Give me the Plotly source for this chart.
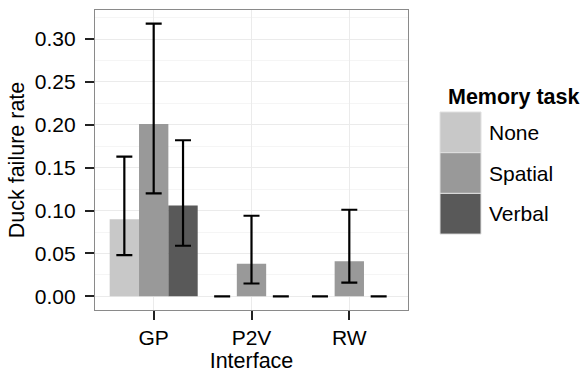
import plotly.graph_objects as go

interfaces = ["GP", "P2V", "RW"]
tasks = ["None", "Spatial", "Verbal"]
rates = {
    "None":    [0.090, 0.0, 0.0],
    "Spatial": [0.201, 0.038, 0.041],
    "Verbal":  [0.106, 0.0, 0.0],
}
upper = {
    "None":    [0.163, 0.0, 0.0],
    "Spatial": [0.318, 0.094, 0.101],
    "Verbal":  [0.182, 0.0, 0.0],
}
lower = {
    "None":    [0.048, 0.0, 0.0],
    "Spatial": [0.120, 0.015, 0.016],
    "Verbal":  [0.059, 0.0, 0.0],
}
colors = {"None": "#c8c8c8", "Spatial": "#999999", "Verbal": "#595959"}
legend_title = "Memory task"

FONT = "Liberation Sans, Arial, Helvetica, sans-serif"

fig = go.Figure()
for t in tasks:
    fig.add_trace(go.Bar(
        x=interfaces, y=rates[t], name=t,
        marker=dict(color=colors[t], line=dict(width=0)),
        error_y=dict(type="data", symmetric=False,
                     array=[u - r for u, r in zip(upper[t], rates[t])],
                     arrayminus=[r - l for r, l in zip(rates[t], lower[t])],
                     color="black", thickness=2.2, width=8),
        showlegend=False,
    ))

ymax = max(max(v) for v in upper.values())
pad = 0.05 * ymax

# manual ggplot-style legend
L, R, T, B = 95, 176, 10, 63
W, H = 584, 373
pw = W - L - R
ph = H - T - B
key_x0, key_x1 = 440, 481
key_top = 112
key_h = 40.7
def px(x):
    return (x - L) / pw
def py(y):
    return 1 - (y - T) / ph

shapes = []
annotations = []
annotations.append(dict(text="<b>" + legend_title + "</b>", x=px(446), y=py(97),
                        xref="paper", yref="paper", xanchor="left", yanchor="middle",
                        showarrow=False, font=dict(size=21.5, color="black", family=FONT)))
for i, t in enumerate(tasks):
    y0 = key_top + i * key_h
    shapes.append(dict(type="rect", xref="paper", yref="paper",
                       x0=px(key_x0), x1=px(key_x1), y0=py(y0), y1=py(y0 + key_h),
                       fillcolor=colors[t], line=dict(color="#e0e0e0", width=1)))
    annotations.append(dict(text=t, x=px(487), y=py(y0 + key_h / 2),
                            xref="paper", yref="paper", xanchor="left", yanchor="middle",
                            showarrow=False, font=dict(size=21, color="black", family=FONT)))

fig.update_layout(
    width=W, height=H,
    margin=dict(l=L, r=R, t=T, b=B),
    barmode="group", bargap=0.1, bargroupgap=0,
    plot_bgcolor="white", paper_bgcolor="white",
    font=dict(family=FONT, size=21, color="black"),
    shapes=shapes, annotations=annotations,
    xaxis=dict(
        range=[-0.6, 2.6], showgrid=True, gridcolor="#ebebeb", gridwidth=1,
        ticks="outside", ticklen=9, tickwidth=2, tickcolor="#222222",
        showline=True, linecolor="#8a8a8a", linewidth=1.2, mirror=True,
        tickfont=dict(size=21, color="black"),
        title=dict(text="Interface", font=dict(size=21.5), standoff=2),
        zeroline=False, automargin=False,
    ),
    yaxis=dict(
        range=[-pad, ymax + pad], tickmode="array",
        tickvals=[0, 0.05, 0.10, 0.15, 0.20, 0.25, 0.30],
        ticktext=["0.00", "0.05", "0.10", "0.15", "0.20", "0.25", "0.30"],
        showgrid=True, gridcolor="#ebebeb", gridwidth=1.2,
        minor=dict(tickvals=[0.025, 0.075, 0.125, 0.175, 0.225, 0.275, 0.325],
                   showgrid=True, gridcolor="#f5f5f5", gridwidth=1, ticks=""),
        ticks="outside", ticklen=9, tickwidth=2, tickcolor="#222222",
        showline=True, linecolor="#8a8a8a", linewidth=1.2, mirror=True,
        tickfont=dict(size=21, color="black"), ticklabelstandoff=5,
        title=dict(text="Duck failure rate", font=dict(size=21.5), standoff=4),
        zeroline=False, automargin=False,
    ),
)

fig.write_html("out.html", config={"displayModeBar": False},
               post_script="document.body.style.margin='0';")
